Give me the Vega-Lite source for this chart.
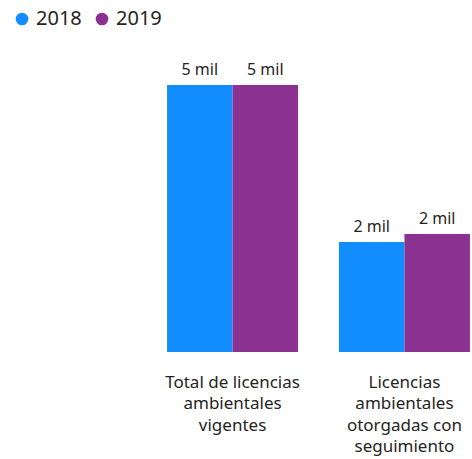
{
  "$schema": "https://vega.github.io/schema/vega-lite/v6.json",
  "width": 307,
  "height": 300,
  "autosize": "none",
  "padding": {"left": 165, "top": 52, "right": 0, "bottom": 107},
  "background": "white",
  "config": {"view": {"stroke": null}, "font": "Noto Sans"},
  "data": {
    "values": [
      {"categoria": "Total de licencias ambientales vigentes", "anio": "2018", "valor": 5000, "etiqueta": "5 mil"},
      {"categoria": "Total de licencias ambientales vigentes", "anio": "2019", "valor": 5000, "etiqueta": "5 mil"},
      {"categoria": "Licencias ambientales otorgadas con seguimiento", "anio": "2018", "valor": 2060, "etiqueta": "2 mil"},
      {"categoria": "Licencias ambientales otorgadas con seguimiento", "anio": "2019", "valor": 2210, "etiqueta": "2 mil"}
    ]
  },
  "encoding": {
    "x": {
      "field": "categoria",
      "type": "nominal",
      "sort": ["Total de licencias ambientales vigentes", "Licencias ambientales otorgadas con seguimiento"],
      "scale": {"paddingInner": 0.238, "paddingOuter": 0.012},
      "axis": {
        "title": null,
        "domain": false,
        "ticks": false,
        "labelAngle": 0,
        "labelFontSize": 17,
        "labelColor": "#252423",
        "labelPadding": 22,
        "labelLineHeight": 21.5,
        "labelLimit": 0,
        "labelExpr": "datum.label == 'Total de licencias ambientales vigentes' ? ['Total de licencias', 'ambientales', 'vigentes'] : ['Licencias', 'ambientales', 'otorgadas con', 'seguimiento']"
      }
    },
    "xOffset": {"field": "anio", "type": "nominal", "scale": {"paddingInner": 0, "paddingOuter": 0}},
    "y": {
      "field": "valor",
      "type": "quantitative",
      "scale": {"domain": [0, 5618], "nice": false},
      "axis": null
    }
  },
  "layer": [
    {
      "mark": {"type": "bar"},
      "encoding": {
        "color": {
          "field": "anio",
          "type": "nominal",
          "scale": {"domain": ["2018", "2019"], "range": ["#118DFF", "#8B3192"]},
          "legend": {
            "title": null,
            "orient": "none",
            "direction": "horizontal",
            "legendX": -153,
            "legendY": -43,
            "symbolType": "circle",
            "symbolSize": 160,
            "symbolOpacity": 1,
            "labelFontSize": 20,
            "labelColor": "#252423",
            "labelOffset": 4,
            "columnPadding": 10
          }
        }
      }
    },
    {
      "mark": {"type": "text", "baseline": "bottom", "dy": -7, "fontSize": 16, "color": "#252423"},
      "encoding": {"text": {"field": "etiqueta"}}
    }
  ]
}
